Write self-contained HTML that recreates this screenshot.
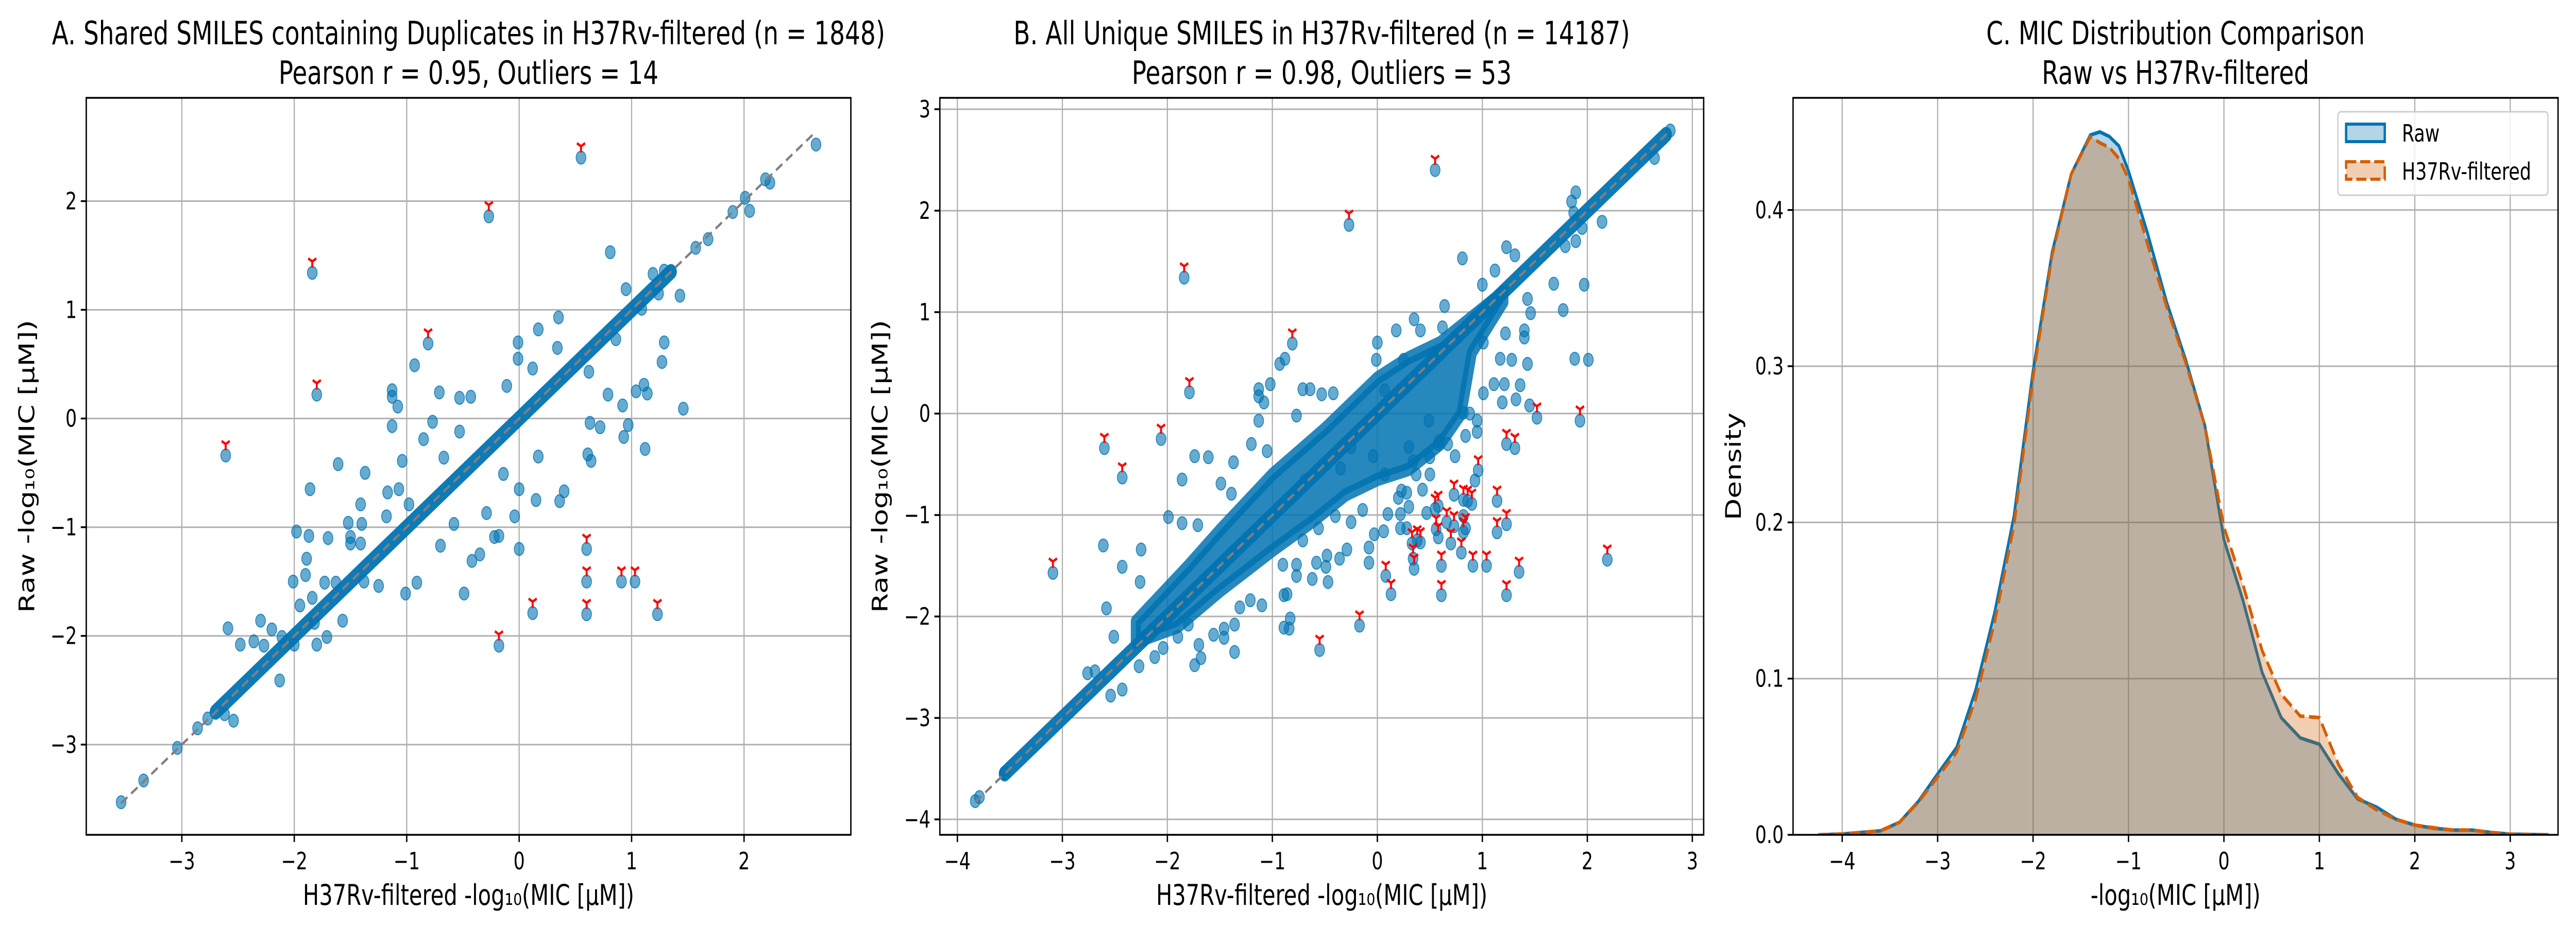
<!DOCTYPE html>
<html><head><meta charset="utf-8"><style>
html,body{margin:0;padding:0;background:#fff;overflow:hidden;width:100%;height:100%;}
svg{display:block;font-family:"DejaVu Sans","Liberation Sans",sans-serif;width:100vw;height:100vh;}
</style></head><body>
<svg id="fig" xmlns="http://www.w3.org/2000/svg" viewBox="0 0 6600 1800" preserveAspectRatio="none">
<rect x="0" y="0" width="6600" height="1800" fill="#fff"/>
</svg>
<script>
// ---------- Panel A data ----------
const aX = [2.64,2.19,2.23,2.01,1.90,2.05,1.57,1.68,0.81,0.95,1.43,1.24,1.09,0.35,0.17,-0.01,0.34,1.29,1.27,-0.93,-0.01,0.12,0.86,0.62,-0.11,-1.13,-1.13,-0.71,-0.53,-0.43,-1.08,0.79,1.04,1.11,1.14,1.46,0.92,0.97,0.72,0.63,0.93,1.12,-1.13,-0.77,-0.85,-0.53,0.61,0.64,0.17,-1.61,-1.37,-1.86,-1.04,-0.67,-0.14,0.40,0.36,0.15,0.00,-0.29,-1.41,-1.17,-1.07,-1.18,-1.40,-1.52,-0.04,-0.58,-0.98,-1.98,-1.87,-1.70,-1.50,-1.50,-1.41,-0.70,0.00,-0.22,-0.18,-0.42,-0.35,-1.89,-1.90,-2.01,-1.73,-1.63,-1.38,-1.25,-0.91,-1.01,-0.49,-1.84,-1.95,-1.82,-1.80,-1.71,-1.57,-2.30,-2.59,-2.20,-2.48,-2.36,-2.27,-2.11,-2.00,-2.13,-2.54,-2.62,-2.77,-2.86,-3.04,-3.34,-3.54,1.19,1.29];
const aY = [2.52,2.20,2.17,2.03,1.90,1.91,1.57,1.65,1.53,1.19,1.13,1.15,1.01,0.93,0.82,0.70,0.65,0.70,0.52,0.49,0.55,0.46,0.73,0.43,0.30,0.26,0.20,0.24,0.19,0.20,0.11,0.22,0.25,0.31,0.23,0.09,0.12,-0.06,-0.08,-0.04,-0.17,-0.28,-0.07,-0.03,-0.19,-0.12,-0.33,-0.39,-0.35,-0.42,-0.50,-0.65,-0.39,-0.36,-0.51,-0.67,-0.76,-0.75,-0.65,-0.87,-0.79,-0.68,-0.65,-0.90,-0.97,-0.96,-0.90,-0.97,-0.79,-1.04,-1.08,-1.10,-1.09,-1.15,-1.15,-1.17,-1.20,-1.09,-1.08,-1.31,-1.25,-1.29,-1.44,-1.50,-1.51,-1.51,-1.50,-1.54,-1.51,-1.61,-1.61,-1.65,-1.72,-1.88,-2.08,-2.01,-1.86,-1.86,-1.93,-1.94,-2.08,-2.05,-2.09,-2.01,-2.08,-2.41,-2.78,-2.72,-2.76,-2.85,-3.03,-3.33,-3.53,1.33,1.36];
const aOutX = [0.55,-0.27,-1.84,-0.81,-1.80,-2.61,0.60,0.60,0.91,1.03,0.12,0.60,1.23,-0.18];
const aOutY = [2.40,1.86,1.34,0.69,0.22,-0.34,-1.20,-1.50,-1.50,-1.50,-1.79,-1.80,-1.80,-2.09];
const aBandX = [-2.7,1.35];
const aTicksX = [-3,-2,-1,0,1,2];
const aTicksY = [-3,-2,-1,0,1,2];

// ---------- Panel B data ----------
const bX = [2.79,2.64,1.89,1.85,1.87,2.14,1.95,1.79,1.89,1.23,1.31,0.81,1.12,1.68,1.97,1.00,1.43,1.46,1.77,0.35,0.18,0.41,0.00,1.40,1.40,1.43,1.88,2.01,1.17,1.28,-0.93,-0.88,-1.13,-1.13,-1.02,-1.08,-0.71,-0.64,-0.53,-0.42,-1.13,-0.77,-1.20,-1.05,-1.74,-1.61,-1.86,-1.37,-1.49,-1.39,1.19,1.32,1.45,1.21,1.36,1.11,1.01,0.88,0.82,0.95,0.84,0.67,0.58,0.50,0.34,0.37,0.50,0.43,0.23,0.10,0.22,0.30,0.47,-0.03,0.06,0.22,-0.08,-0.08,-0.29,-0.36,-0.48,-0.49,-0.47,-0.58,-0.62,-0.77,-0.77,-0.90,-0.89,-0.86,-1.10,-1.21,-1.31,-0.83,-0.89,-0.84,-1.36,-1.46,-1.56,-1.74,-1.68,-1.70,-1.80,-1.90,-2.04,-2.12,-2.27,-2.43,-2.54,-2.69,-2.76,-2.51,-2.58,-2.43,-2.61,-2.26,-2.25,-1.99,-1.86,-1.71,-1.36,-1.46,-3.83,-3.79,-3.55,0.30,0.49,0.59,0.74,-0.04,0.07,0.20,0.28,0.28,0.82,0.93,0.95,-0.14,-0.25,-0.40,-0.56,-0.71,-0.69,-0.35,-0.25,0.07,-0.01,0.25,0.54,0.64,0.62,0.75,1.01,1.22];
const bY = [2.79,2.52,2.18,2.09,1.98,1.89,1.83,1.65,1.70,1.64,1.56,1.53,1.41,1.28,1.27,1.27,1.13,0.99,1.02,0.93,0.82,0.82,0.70,0.75,0.82,0.49,0.54,0.53,0.54,0.53,0.49,0.54,0.24,0.17,0.29,0.11,0.24,0.24,0.19,0.20,-0.07,-0.02,-0.30,-0.37,-0.42,-0.43,-0.65,-0.48,-0.69,-0.79,0.11,0.14,0.08,0.29,0.28,0.29,0.20,0.00,0.01,-0.07,-0.22,-0.30,-0.30,-0.43,-0.47,-0.60,-0.60,-0.75,-0.76,-0.99,-0.99,-0.92,-0.98,-1.19,-1.16,-1.13,-1.32,-1.47,-1.34,-1.43,-1.40,-1.51,-1.66,-1.47,-1.63,-1.49,-1.60,-1.49,-1.79,-1.78,-1.89,-1.84,-1.91,-2.02,-2.11,-2.12,-2.08,-2.12,-2.18,-2.48,-2.41,-2.28,-2.08,-2.20,-2.31,-2.40,-2.49,-2.72,-2.78,-2.54,-2.56,-2.20,-1.92,-1.51,-1.30,-1.66,-1.34,-1.02,-1.08,-1.10,-2.35,-2.21,-3.82,-3.78,-3.54,-0.33,-0.07,-0.27,-0.42,-0.42,-0.60,-0.83,-0.78,-1.13,-1.01,-0.66,-0.18,-0.95,-1.07,-1.01,-1.13,-1.25,-0.66,-0.54,-0.33,0.23,0.53,0.53,0.59,1.06,0.85,0.76,0.70,0.79];
const bOutX = [0.55,-0.27,-1.84,-0.81,-1.79,-2.60,-2.06,-2.43,-3.09,1.52,1.93,1.23,1.31,0.96,0.73,0.82,0.90,0.86,0.55,0.58,1.14,0.66,0.73,0.84,0.82,1.23,1.14,0.33,0.38,0.41,0.56,0.58,0.70,0.80,0.34,0.35,0.61,0.91,1.04,1.35,0.08,0.13,0.61,1.23,2.19,-0.17,-0.55];
const bOutY = [2.40,1.86,1.34,0.69,0.21,-0.34,-0.25,-0.63,-1.57,-0.04,-0.07,-0.30,-0.34,-0.56,-0.80,-0.85,-0.89,-0.86,-0.94,-0.91,-0.86,-1.07,-1.11,-1.13,-1.17,-1.09,-1.17,-1.28,-1.25,-1.27,-1.14,-1.22,-1.28,-1.37,-1.43,-1.53,-1.50,-1.50,-1.50,-1.56,-1.60,-1.78,-1.79,-1.79,-1.44,-2.09,-2.33];
const bCloudX = [-2.3,-1.8,-1.5,-1.0,-0.5,-0.2,0.0,0.3,0.6,0.9,1.2,1.2,0.9,0.8,0.6,0.3,0.0,-0.3,-0.6,-1.0,-1.5,-1.9,-2.3];
const bCloudY = [-2.05,-1.5,-1.15,-0.6,-0.15,0.15,0.35,0.55,0.7,0.95,1.2,1.1,0.6,0.0,-0.3,-0.55,-0.65,-0.8,-1.05,-1.35,-1.75,-2.1,-2.25];
const bBandX = [-3.55,2.75];
const bTicksX = [-4,-3,-2,-1,0,1,2,3];
const bTicksY = [-4,-3,-2,-1,0,1,2,3];

// ---------- Panel C data ----------
const cGridX = [-4.25,-4.0,-3.6,-3.4,-3.2,-3.0,-2.8,-2.6,-2.4,-2.2,-2.0,-1.8,-1.6,-1.4,-1.3,-1.2,-1.1,-1.0,-0.8,-0.6,-0.4,-0.2,0.0,0.2,0.4,0.6,0.8,1.0,1.2,1.4,1.6,1.8,2.0,2.2,2.4,2.6,2.8,3.0,3.4];
const cRaw  = [0,0.0005,0.0025,0.008,0.0215,0.039,0.056,0.093,0.143,0.204,0.297,0.373,0.423,0.448,0.450,0.447,0.441,0.425,0.385,0.341,0.304,0.262,0.189,0.150,0.104,0.075,0.062,0.058,0.039,0.023,0.0177,0.010,0.0062,0.0042,0.003,0.003,0.0015,0.0004,0];
const cFilt = [0,0.0005,0.0025,0.008,0.021,0.037,0.053,0.087,0.137,0.198,0.293,0.371,0.423,0.447,0.443,0.440,0.433,0.420,0.378,0.338,0.302,0.262,0.197,0.160,0.118,0.090,0.076,0.075,0.045,0.024,0.016,0.010,0.0062,0.0045,0.003,0.003,0.0015,0.0004,0];
const cTicksX = [-4,-3,-2,-1,0,1,2,3];
const cTicksY = [0.0,0.1,0.2,0.3,0.4];
const cTickLabelsY = ["0.0","0.1","0.2","0.3","0.4"];

const NS = "http://www.w3.org/2000/svg";
const svg = document.getElementById('fig');
const BLUE = "#0173b2", ORANGE = "#d55e00";

function mk(tag, attrs, parent) {
  const e = document.createElementNS(NS, tag);
  for (const k in attrs) e.setAttribute(k, attrs[k]);
  (parent || svg).appendChild(e);
  return e;
}
function fmt(v){ return v < 0 ? "\u2212" + Math.abs(v) : String(v); }

function makeAxes(p, name) {
  const g = mk('g', {});
  
  
  p.g = g;
  p.sx = v => p.L + (v - p.x0) / (p.x1 - p.x0) * (p.R - p.L);
  p.sy = v => p.B - (v - p.y0) / (p.y1 - p.y0) * (p.B - p.T);
  const clipId = name + '-clip';
  const cp = mk('clipPath', {id: clipId}, g);
  mk('rect', {x: p.L, y: p.T, width: p.R - p.L, height: p.B - p.T}, cp);
  p.ticksX.forEach((t) => {
    const l = mk('line', {x1: p.sx(t), x2: p.sx(t), y1: p.T, y2: p.B, stroke: '#b0b0b0', 'stroke-width': 3}, g);
    
    
  });
  p.ticksY.forEach((t) => {
    const l = mk('line', {x1: p.L, x2: p.R, y1: p.sy(t), y2: p.sy(t), stroke: '#b0b0b0', 'stroke-width': 3}, g);
    
    
  });
  p.plot = mk('g', {'clip-path': 'url(#' + clipId + ')'}, g);
  return p;
}

function finishAxes(p) {
  const g = p.g;
  const fr = mk('rect', {x: p.L, y: p.T, width: p.R - p.L, height: p.B - p.T, fill: 'none', stroke: '#000', 'stroke-width': 3.5}, g);
  
  
  p.ticksX.forEach((t, i) => {
    const x = p.sx(t);
    mk('line', {x1: x, x2: x, y1: p.B, y2: p.B + 14, stroke: '#000', 'stroke-width': 3.5}, g);
    const tx = mk('text', {x: x, y: 1688, 'font-size': 46, 'text-anchor': 'middle', fill: '#000'}, g);
    tx.textContent = p.labelsX ? p.labelsX[i] : fmt(t);
    
    
  });
  p.ticksY.forEach((t, i) => {
    const y = p.sy(t);
    mk('line', {x1: p.L - 14, x2: p.L, y1: y, y2: y, stroke: '#000', 'stroke-width': 3.5}, g);
    const ty = mk('text', {x: p.L - 24, y: y + 16, 'font-size': 46, 'text-anchor': 'end', fill: '#000'}, g);
    ty.textContent = p.labelsY ? p.labelsY[i] : fmt(t);
    
    
  });
  const cx = (p.L + p.R) / 2;
  const t1 = mk('text', {x: cx, y: 86, 'font-size': 62, 'text-anchor': 'middle', fill: '#000'}, g);
  t1.textContent = p.title1;
  
  
  const t2 = mk('text', {x: cx, y: 163, 'font-size': 62, 'text-anchor': 'middle', fill: '#000'}, g);
  t2.textContent = p.title2;
  
  
  const xl = mk('text', {x: cx, y: 1757, 'font-size': 55, 'text-anchor': 'middle', fill: '#000'}, g);
  xl.textContent = p.xlabel;
  
  
  const my = (p.T + p.B) / 2;
  const yl = mk('text', {x: p.ylx, y: my, 'font-size': 55, 'text-anchor': 'middle', fill: '#000', transform: 'rotate(-90 ' + p.ylx + ' ' + my + ')'}, g);
  yl.textContent = p.ylabel;
  
  
}

function scatterPanel(p, xs, ys, ox, oy, band, cloudX, cloudY, name) {
  makeAxes(p, name);
  const pl = p.plot;
  if (cloudX) {
    const pts = cloudX.map((v, i) => p.sx(v) + ',' + p.sy(cloudY[i])).join(' ');
    const c = mk('polygon', {points: pts, fill: BLUE, 'fill-opacity': 0.85, stroke: BLUE, 'stroke-opacity': 0.85, 'stroke-width': 26, 'stroke-linejoin': 'round'}, pl);
    
    
  }
  const b = mk('line', {x1: p.sx(band[0]), y1: p.sy(band[0]), x2: p.sx(band[1]), y2: p.sy(band[1]), stroke: BLUE, 'stroke-width': 30, 'stroke-linecap': 'round', 'stroke-opacity': 0.95}, pl);
  
  
  const allX = xs.concat(ox), allY = ys.concat(oy);
  allX.forEach((v, i) => {
    const c = mk('circle', {cx: p.sx(v), cy: p.sy(allY[i]), r: 12.5, fill: BLUE, 'fill-opacity': 0.6, stroke: BLUE, 'stroke-opacity': 0.8, 'stroke-width': 2}, pl);
    
    
  });
  const mn = Math.min.apply(null, allX.concat(allY)), mx = Math.max.apply(null, allX.concat(allY));
  const d = mk('line', {x1: p.sx(mn), y1: p.sy(mn), x2: p.sx(mx), y2: p.sy(mx), stroke: '#808080', 'stroke-width': 5, 'stroke-dasharray': '20 12'}, pl);
  
  
  ox.forEach((v, i) => {
    const x = p.sx(v), y = p.sy(oy[i]) - 22, r = 12;
    const m = mk('path', {d: 'M' + x + ' ' + y + ' L' + x + ' ' + (y + r) + ' M' + x + ' ' + y + ' L' + (x - 0.87 * r) + ' ' + (y - 0.5 * r) + ' M' + x + ' ' + y + ' L' + (x + 0.87 * r) + ' ' + (y - 0.5 * r), stroke: '#ff0000', 'stroke-width': 5, fill: 'none'}, pl);
    
    
  });
  finishAxes(p);
}

scatterPanel({L: 221, R: 2180, T: 190, B: 1621, x0: -3.85, x1: 2.95, y0: -3.83, y1: 2.95,
  ticksX: aTicksX, ticksY: aTicksY, ylx: 88,
  title1: 'A. Shared SMILES containing Duplicates in H37Rv-filtered (n = 1848)',
  title2: 'Pearson r = 0.95, Outliers = 14',
  xlabel: 'H37Rv-filtered -log\u2081\u2080(MIC [\u03bcM])', ylabel: 'Raw -log\u2081\u2080(MIC [\u03bcM])'},
  aX, aY, aOutX, aOutY, aBandX, null, null, 'panel-a-scatter');

scatterPanel({L: 2408, R: 4365, T: 190, B: 1621, x0: -4.167, x1: 3.108, y0: -4.152, y1: 3.112,
  ticksX: bTicksX, ticksY: bTicksY, ylx: 2274,
  title1: 'B. All Unique SMILES in H37Rv-filtered (n = 14187)',
  title2: 'Pearson r = 0.98, Outliers = 53',
  xlabel: 'H37Rv-filtered -log\u2081\u2080(MIC [\u03bcM])', ylabel: 'Raw -log\u2081\u2080(MIC [\u03bcM])'},
  bX, bY, bOutX, bOutY, bBandX, bCloudX, bCloudY, 'panel-b-scatter');

(function(){
  const p = makeAxes({L: 4594, R: 6554, T: 190, B: 1621, x0: -4.515, x1: 3.501, y0: 0, y1: 0.4718,
    ticksX: cTicksX, ticksY: cTicksY, labelsY: cTickLabelsY, ylx: 4460,
    title1: 'C. MIC Distribution Comparison', title2: 'Raw vs H37Rv-filtered',
    xlabel: '-log\u2081\u2080(MIC [\u03bcM])', ylabel: 'Density'}, 'panel-c-density');
  const pl = p.plot;
  function linePts(arr){ return cGridX.map((v, i) => (i ? 'L' : 'M') + p.sx(v).toFixed(1) + ' ' + p.sy(arr[i]).toFixed(1)).join(' '); }
  function areaPts(arr){ return linePts(arr) + ' L' + p.sx(cGridX[cGridX.length-1]) + ' ' + p.sy(0) + ' L' + p.sx(cGridX[0]) + ' ' + p.sy(0) + ' Z'; }
  const fr = mk('path', {d: areaPts(cRaw), fill: BLUE, 'fill-opacity': 0.3}, pl);
  
  
  const lr = mk('path', {d: linePts(cRaw), fill: 'none', stroke: BLUE, 'stroke-width': 7, 'stroke-linejoin': 'round'}, pl);
  
  
  const ff = mk('path', {d: areaPts(cFilt), fill: ORANGE, 'fill-opacity': 0.3}, pl);
  
  
  const lf = mk('path', {d: linePts(cFilt), fill: 'none', stroke: ORANGE, 'stroke-width': 7, 'stroke-dasharray': '28 12', 'stroke-linejoin': 'round'}, pl);
  
  
  finishAxes(p);
  const lg = mk('g', {});
  
  
  mk('rect', {x: 5990, y: 217, width: 538, height: 162, rx: 8, fill: '#fff', 'fill-opacity': 0.8, stroke: '#cccccc', 'stroke-width': 3}, lg);
  const e1 = mk('rect', {x: 6011, y: 241, width: 99, height: 34, fill: BLUE, 'fill-opacity': 0.3, stroke: BLUE, 'stroke-width': 6}, lg);
  
  
  const t1 = mk('text', {x: 6154, y: 275, 'font-size': 46, fill: '#000'}, lg);
  t1.textContent = 'Raw';
  
  
  const e2 = mk('rect', {x: 6011, y: 314, width: 99, height: 34, fill: ORANGE, 'fill-opacity': 0.3, stroke: ORANGE, 'stroke-width': 6, 'stroke-dasharray': '26 10'}, lg);
  
  
  const t2 = mk('text', {x: 6154, y: 349, 'font-size': 46, fill: '#000'}, lg);
  t2.textContent = 'H37Rv-filtered';
  
  
})();
</script>
</body></html>
